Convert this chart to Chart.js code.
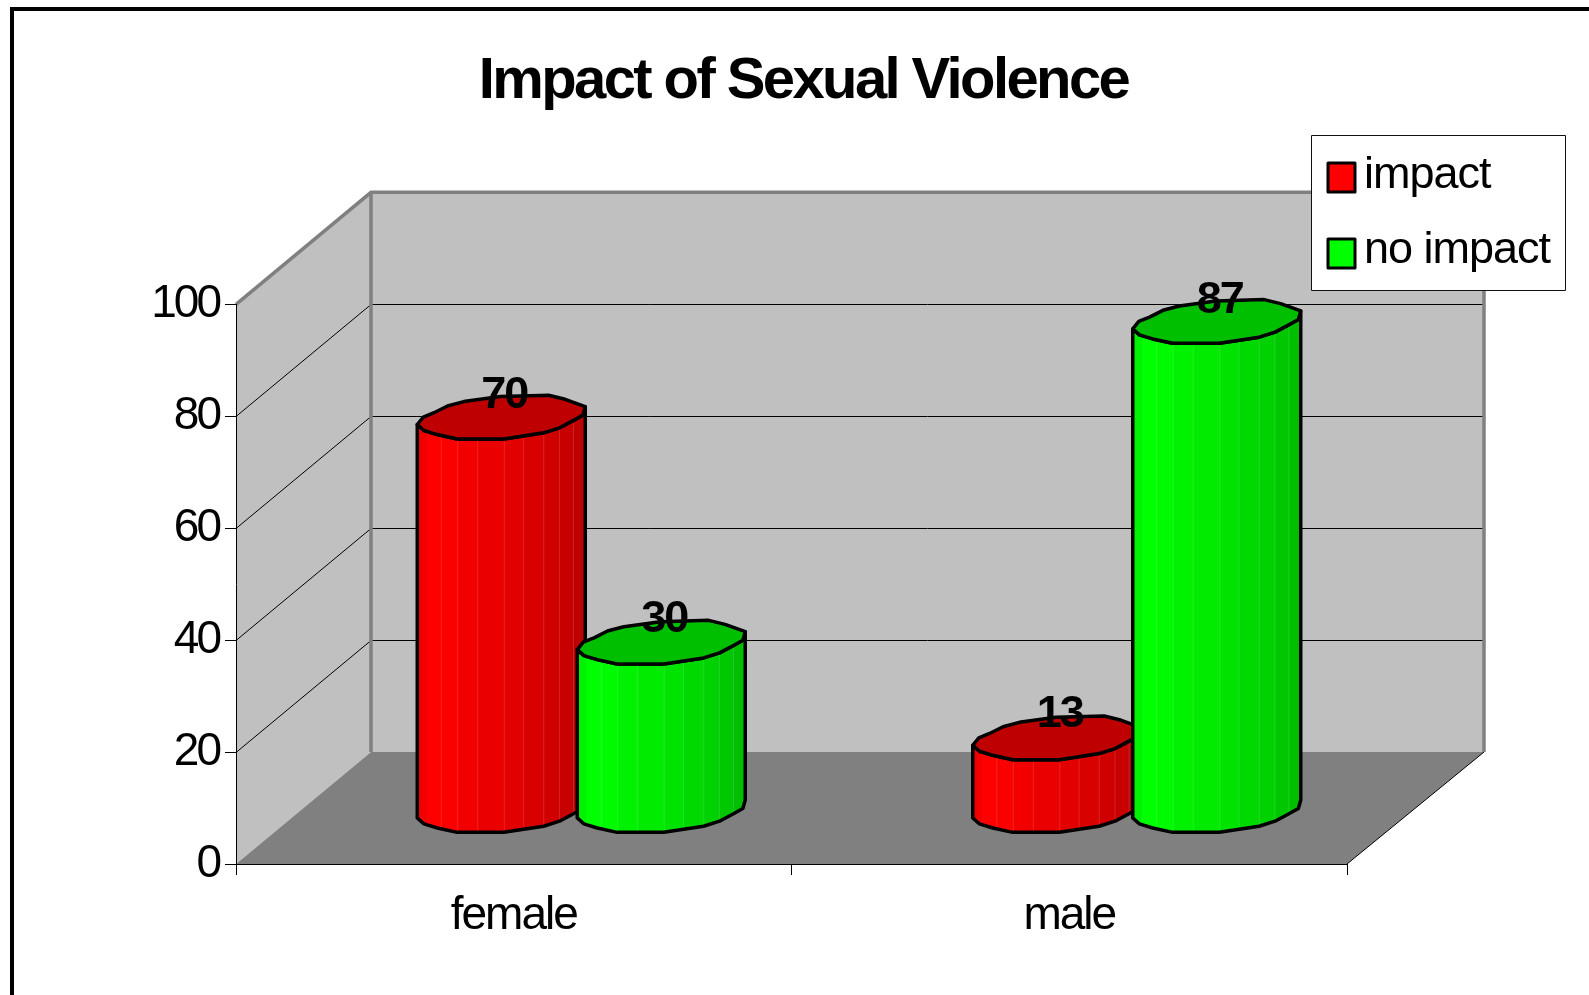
<!DOCTYPE html>
<html lang="en">
<head>
    <meta charset="UTF-8">
    <title>Impact of Sexual Violence</title>
    <script src="https://cdn.jsdelivr.net/npm/chart.js"></script>
    <style>
        html, body { margin: 0; padding: 0; background: #fff; overflow: hidden; }
        canvas { display: block; }
    </style>
</head>
<body>
    <canvas id="myChart" width="1589" height="995"></canvas>
    <script>
        const categories = ['female', 'male'];
        const impactValues = [70, 13];
        const noImpactValues = [30, 87];
        const yTicks = [0, 20, 40, 60, 80, 100];
        const chartTitle = 'Impact of Sexual Violence';

        // depth of the fake 3D box, the cylinders stand half way in
        const depthX = 135;
        const depthY = -112;
        const fontName = '"Liberation Sans", Arial, sans-serif';

        // outline of the cylinder top: u across the bar, v is up/down
        const rimBack = [[0, .34], [.036, 0], [.1, -.2], [.18, -.51], [.277, -.71], [.495, -.94], [.782, -1], [.88, -.815], [1, -.48]];
        const rimFront = [[1, -.48], [.986, -.09], [.93, .15], [.847, .49], [.752, .72], [.515, 1], [.238, 1], [.119, .8], [.04, .615], [0, .34]];
        const facetEdges = [0, .055, .14, .238, .357, .515, .63, .75, .844, .927, 1];
        const facetShade = [.05, 0, .02, .05, .08, .11, .15, .18, .22, .25];

        function outline(ctx, points, x, y, w, h, start) {
            points.forEach((p, i) => {
                const px = x + p[0] * w;
                const py = y + p[1] * h;
                if (i === 0 && start) ctx.moveTo(px, py);
                else ctx.lineTo(px, py);
            });
        }

        function drawCylinder(ctx, bar, color, value) {
            const w = bar.width;
            const h = w * 0.13;
            const x = bar.x + depthX / 2 - w / 2;
            // small perspective correction, the floor of the cylinders sits a bit low
            const top = bar.y + depthY / 2 + 3 * (1 - value / 100);
            const bottom = bar.base + depthY / 2 + 3;

            const body = () => {
                ctx.beginPath();
                outline(ctx, rimFront, x, top, w, h, true);
                outline(ctx, rimFront.slice().reverse(), x, bottom, w, h, false);
                ctx.closePath();
            };

            ctx.save();
            body();
            ctx.clip();
            facetShade.forEach((shade, i) => {
                const x0 = x + facetEdges[i] * w;
                const x1 = x + facetEdges[i + 1] * w;
                ctx.fillStyle = color;
                ctx.fillRect(x0, top - h, x1 - x0 + 1, bottom - top + 2 * h);
                ctx.fillStyle = `rgba(0,0,0,${shade})`;
                ctx.fillRect(x0, top - h, x1 - x0 + 1, bottom - top + 2 * h);
                if (i > 1) {
                    ctx.fillStyle = 'rgba(255,255,255,0.14)';
                    ctx.fillRect(x0, top - h, 1, bottom - top + 2 * h);
                }
            });
            ctx.restore();

            ctx.lineWidth = 3.5;
            ctx.lineJoin = 'round';
            ctx.strokeStyle = '#000';
            body();
            ctx.stroke();

            ctx.beginPath();
            outline(ctx, rimBack, x, top, w, h, true);
            outline(ctx, rimFront, x, top, w, h, false);
            ctx.closePath();
            ctx.fillStyle = color;
            ctx.fill();
            ctx.fillStyle = 'rgba(0,0,0,0.25)';
            ctx.fill();
            ctx.stroke();
        }

        // letter spacing differs per text block, so wrap their draw calls
        function withSpacing(ctx, obj, method, spacing) {
            const original = obj[method];
            obj[method] = function (...args) {
                ctx.letterSpacing = spacing;
                original.apply(obj, args);
                ctx.letterSpacing = '0px';
            };
        }

        const box3d = {
            id: 'box3d',
            afterLayout(chart) {
                // title sits right of the page centre
                chart.titleBlock.left = 18;
                chart.titleBlock.right = 1589;
                withSpacing(chart.ctx, chart.titleBlock, 'draw', '-2.6px');
                withSpacing(chart.ctx, chart.scales.x, 'drawLabels', '-2px');
                withSpacing(chart.ctx, chart.scales.y, 'drawLabels', '-3px');
            },
            beforeDraw(chart) {
                const ctx = chart.ctx;
                const area = chart.chartArea;
                const y = chart.scales.y;
                const backL = area.left + depthX;
                const backR = area.right + depthX + 2;

                ctx.save();
                // outer frame, runs off the page on the right and bottom
                ctx.fillStyle = '#000';
                ctx.fillRect(10, 7, 4, 988);
                ctx.fillRect(10, 7, 1579, 4);

                ctx.fillStyle = '#c0c0c0';
                ctx.fillRect(backL, area.top + depthY, backR - backL, area.bottom - area.top);
                ctx.beginPath();
                ctx.moveTo(area.left, area.top);
                ctx.lineTo(backL, area.top + depthY);
                ctx.lineTo(backL, area.bottom + depthY);
                ctx.lineTo(area.left, area.bottom);
                ctx.closePath();
                ctx.fill();

                ctx.fillStyle = '#808080';
                ctx.beginPath();
                ctx.moveTo(area.left, area.bottom);
                ctx.lineTo(backL, area.bottom + depthY);
                ctx.lineTo(backR, area.bottom + depthY);
                ctx.lineTo(area.right, area.bottom);
                ctx.closePath();
                ctx.fill();

                ctx.strokeStyle = '#000';
                ctx.lineWidth = 1;
                yTicks.slice(1, -1).forEach(v => {
                    const py = Math.round(y.getPixelForValue(v)) + 0.5;
                    ctx.beginPath();
                    ctx.moveTo(area.left, py);
                    ctx.lineTo(backL, py + depthY);
                    ctx.lineTo(backR, py + depthY);
                    ctx.stroke();
                });
                ctx.beginPath();
                ctx.moveTo(area.right, area.bottom);
                ctx.lineTo(backR, area.bottom + depthY);
                ctx.stroke();

                ctx.strokeStyle = '#808080';
                ctx.lineWidth = 3.5;
                ctx.beginPath();
                ctx.moveTo(area.left, area.top);
                ctx.lineTo(backL, area.top + depthY);
                ctx.lineTo(backR, area.top + depthY);
                ctx.lineTo(backR, area.bottom + depthY);
                ctx.moveTo(backL, area.top + depthY);
                ctx.lineTo(backL, area.bottom + depthY);
                ctx.stroke();
                ctx.restore();
            },
            // the library would stack later datasets under earlier ones, here green goes on top
            beforeDatasetsDraw(chart) {
                chart.data.datasets.forEach((ds, d) => {
                    chart.getDatasetMeta(d).data.forEach((bar, i) => {
                        drawCylinder(chart.ctx, bar, ds.backgroundColor, ds.data[i]);
                    });
                });
            },
            beforeDatasetDraw() {
                return false;
            },
            afterDraw(chart) {
                const ctx = chart.ctx;
                ctx.save();

                // value labels
                ctx.letterSpacing = '-2px';
                ctx.fillStyle = '#000';
                ctx.font = 'bold 45px ' + fontName;
                ctx.textAlign = 'center';
                ctx.textBaseline = 'middle';
                chart.data.datasets.forEach((ds, d) => {
                    chart.getDatasetMeta(d).data.forEach((bar, i) => {
                        const w = bar.width;
                        ctx.fillText(String(ds.data[i]), bar.x + depthX / 2 + 3, bar.y + depthY / 2 - w * 0.13 + 1);
                    });
                });

                // legend box
                ctx.fillStyle = '#fff';
                ctx.fillRect(1312, 135, 254, 155);
                ctx.strokeStyle = '#111';
                ctx.lineWidth = 1;
                ctx.strokeRect(1311.5, 135.5, 254, 155);
                ctx.textAlign = 'left';
                ctx.textBaseline = 'alphabetic';
                ctx.letterSpacing = '-1px';
                ctx.font = '45px ' + fontName;
                chart.data.datasets.forEach((ds, d) => {
                    const top = 163 + d * 76;
                    ctx.fillStyle = ds.backgroundColor;
                    ctx.fillRect(1328, top, 27, 29);
                    ctx.strokeStyle = '#000';
                    ctx.lineWidth = 3;
                    ctx.strokeRect(1328, top, 27, 29);
                    ctx.fillStyle = '#000';
                    ctx.fillText(ds.label, 1364, 188 + d * 75);
                });
                ctx.restore();
            }
        };

        new Chart(document.getElementById('myChart').getContext('2d'), {
            type: 'bar',
            plugins: [box3d],
            data: {
                labels: categories,
                datasets: [
                    { label: 'impact', data: impactValues, backgroundColor: '#ff0000' },
                    { label: 'no impact', data: noImpactValues, backgroundColor: '#00ff00' }
                ]
            },
            options: {
                responsive: false,
                animation: false,
                layout: { padding: { right: 242 } },
                datasets: { bar: { categoryPercentage: 0.576, barPercentage: 1.05 } },
                plugins: {
                    legend: { display: false },
                    tooltip: { enabled: false },
                    title: {
                        display: true,
                        text: chartTitle,
                        color: '#000',
                        font: { family: fontName, size: 58, weight: 'bold', lineHeight: 1.2 },
                        padding: { top: 47, bottom: 187.7 }
                    }
                },
                scales: {
                    x: {
                        afterFit(scale) { scale.height = 131; },
                        border: { color: '#000', width: 1 },
                        grid: { drawOnChartArea: false, color: '#000', tickLength: 11 },
                        ticks: { color: '#000', padding: 14, maxRotation: 0, font: { family: fontName, size: 46 } }
                    },
                    y: {
                        min: 0,
                        max: 100,
                        afterFit(scale) { scale.width = 236; },
                        afterBuildTicks(scale) { scale.ticks = yTicks.map(v => ({ value: v })); },
                        border: { color: '#000', width: 1 },
                        grid: { drawOnChartArea: false, color: '#000', tickLength: 11 },
                        ticks: { color: '#000', padding: 6, font: { family: fontName, size: 46 } }
                    }
                }
            }
        });
    </script>
</body>
</html>
